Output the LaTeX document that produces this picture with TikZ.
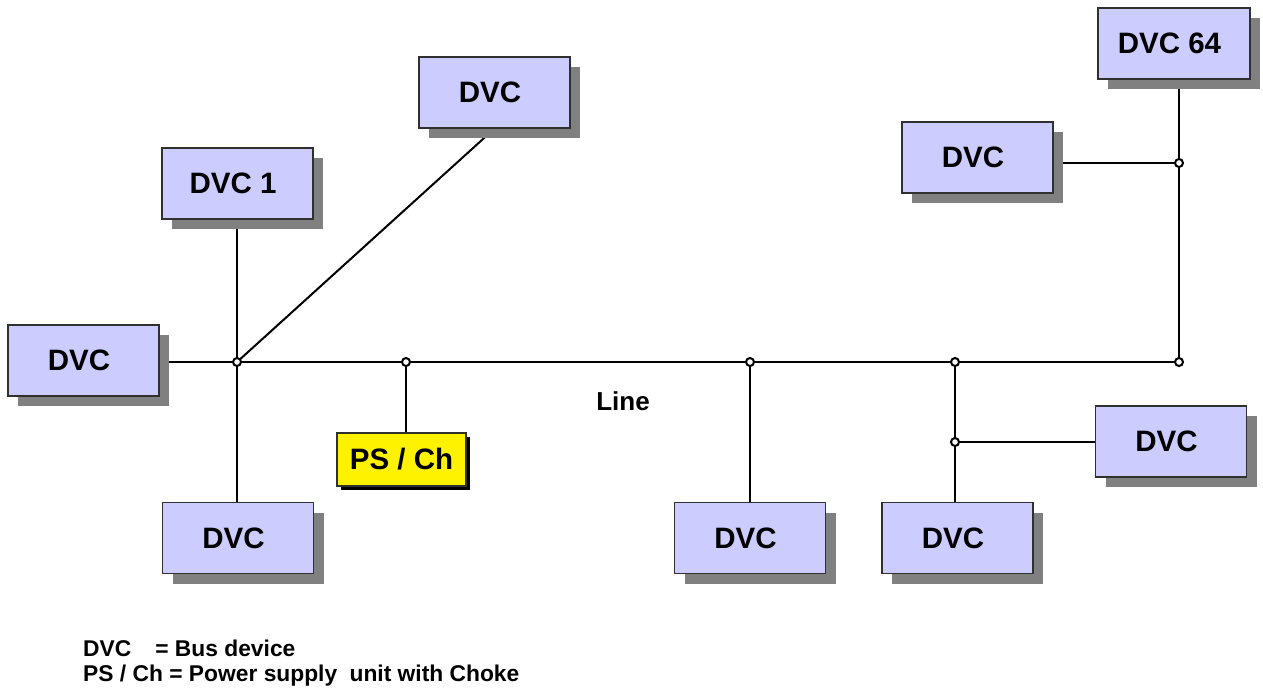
\documentclass[tikz,border=0pt]{standalone}
\usepackage{fontspec}
\setmainfont{Liberation Sans}
\usetikzlibrary{shadows,backgrounds}
\definecolor{boxfill}{HTML}{CCCCFF}
\definecolor{boxline}{HTML}{303030}
\definecolor{shadowgray}{HTML}{808080}
\tikzset{
  dvcbox/.style={draw=boxline, line width=1.2pt, fill=boxfill, minimum width=151pt, minimum height=71pt, inner sep=0pt,
    font=\fontsize{29.5}{34}\selectfont\bfseries, execute at end node={\hspace*{9pt}},
    drop shadow={shadow xshift=10pt, shadow yshift=-10pt, fill=shadowgray, opacity=1}},
  psbox/.style={draw=boxline, line width=1.2pt, fill=yellow, minimum width=129pt, minimum height=53pt, inner sep=0pt,
    font=\fontsize{29.5}{34}\selectfont\bfseries,
    drop shadow={shadow xshift=4pt, shadow yshift=-4pt, fill=black, opacity=1}},
  wire/.style={line width=2pt, black},
  junc/.style={circle, draw=black, fill=white, line width=2pt, minimum size=8pt, inner sep=0pt},
  legend/.style={anchor=west, inner sep=0pt, font=\fontsize{22.8}{26}\selectfont\bfseries},
}
\begin{document}
\begin{tikzpicture}[x=1pt, y=-1pt]
\useasboundingbox (0,0) rectangle (1263,689);
% boxes
\node[dvcbox] (dvcL) at (83.5,360.5) {DVC};
\node[dvcbox] (dvc1) at (237.5,183.5) {DVC 1};
\node[dvcbox] (dvcT) at (494.5,92.5) {DVC};
\node[dvcbox, minimum width=152pt] (dvc64) at (1174,43.5) {DVC 64};
\node[dvcbox] (dvcRM) at (977.5,157.5) {DVC};
\node[dvcbox] (dvcBL) at (238,538) {DVC};
\node[psbox] (psch) at (401.5,459.5) {PS / Ch};
\node[dvcbox] (dvcBC) at (750,538) {DVC};
\node[dvcbox] (dvcBR) at (957.5,538) {DVC};
\node[dvcbox] (dvcR) at (1171,441.5) {DVC};
% junction points
\coordinate (j1) at (237,362);
\coordinate (j2) at (406,362);
\coordinate (j3) at (750,362);
\coordinate (j4) at (955,362);
\coordinate (j5) at (955,442);
\coordinate (j6) at (1179,362);
\coordinate (j7) at (1179,163);
% wires
\begin{pgfonlayer}{background}
\draw[wire] (j1 -| dvcL.east) -- (j1) -- (j6) -- (j7);
\draw[wire] (j7) -- (j7 -| dvcRM.east);
\draw[wire] (j7) -- (j7 |- dvc64.south);
\draw[wire] (j1 |- dvc1.south) -- (j1) -- (j1 |- dvcBL.north);
\draw[wire] (j1) -- (dvcT.south);
\draw[wire] (j2) -- (j2 |- psch.north);
\draw[wire] (j3) -- (dvcBC.north);
\draw[wire] (j4) -- (j4 |- dvcBR.north);
\draw[wire] (j5) -- (j5 -| dvcR.west);
\end{pgfonlayer}
\foreach \j in {j1,j2,j3,j4,j5,j6,j7} \node[junc] at (\j) {};
% labels
\node[font=\fontsize{26}{30}\selectfont\bfseries] (line) at (623,401) {Line};
\node[legend] (leg1) at (83,648) {DVC\hspace{24pt}= Bus device};
\node[legend] (leg2) at (83,676) {PS / Ch = Power supply\hspace{6pt} unit with Choke};
\end{tikzpicture}
\end{document}
